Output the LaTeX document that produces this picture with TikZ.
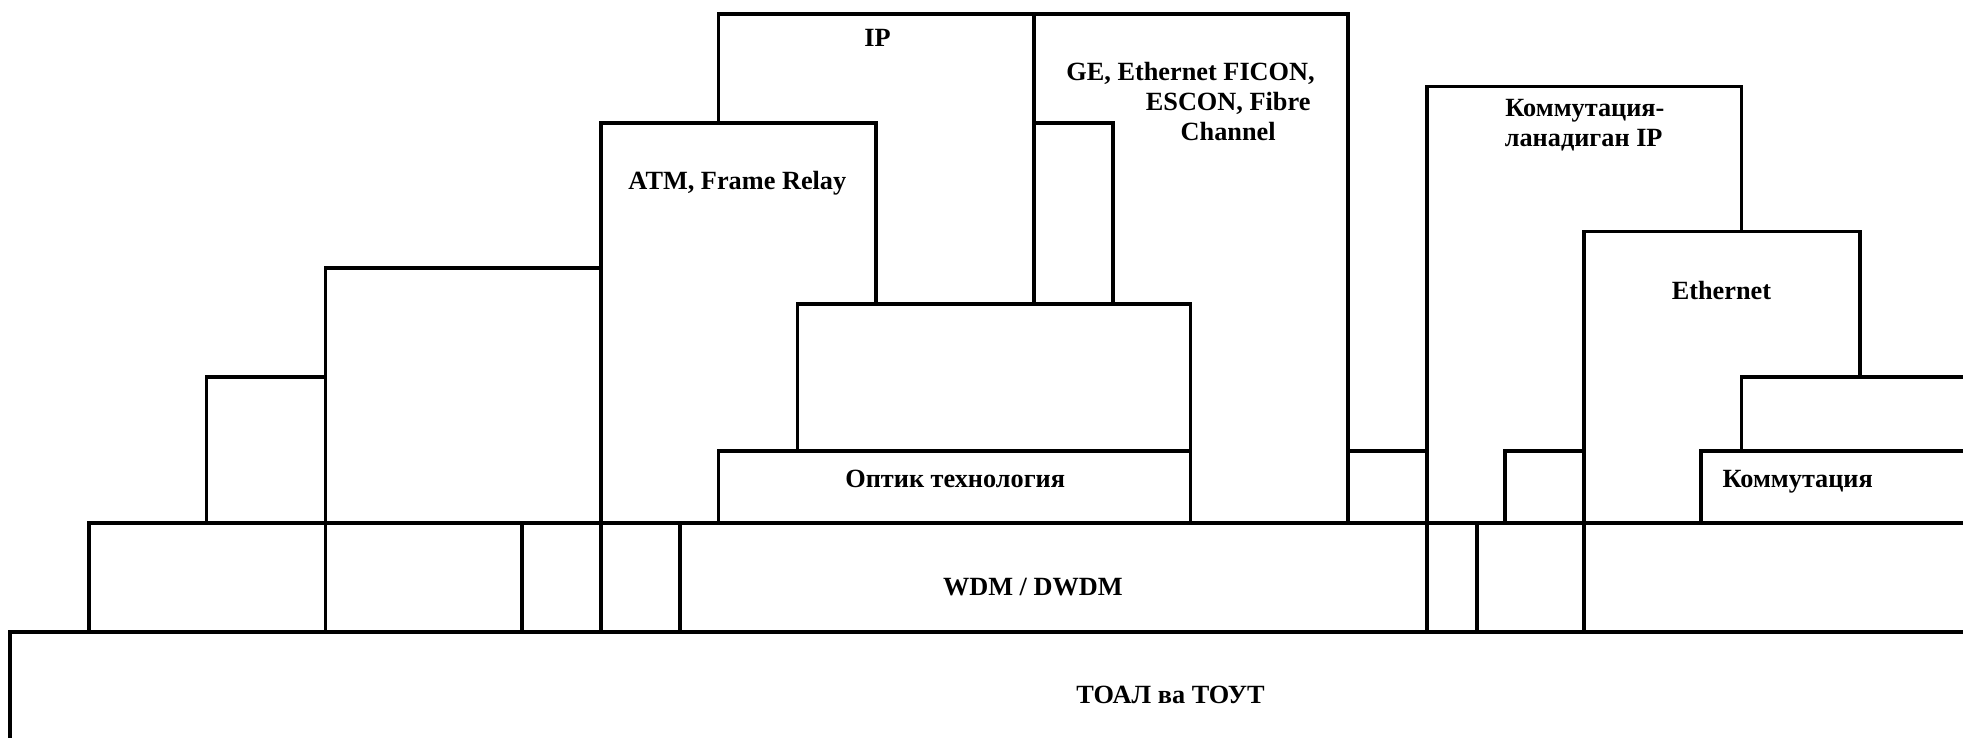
\documentclass[tikz,border=0pt]{standalone}
\usepackage{fontspec}
\setmainfont{Liberation Serif}
\begin{document}
\begin{tikzpicture}[x=1pt,y=-1pt,
  box/.style={draw=black, fill=white, line width=3pt, line join=miter},
  lbl/.style={font=\fontsize{21}{25}\selectfont\bfseries, inner sep=0pt, anchor=base}]
\useasboundingbox (0,0) rectangle (1568,589);
\clip (0,0) rectangle (1568,589);
% bottom layer
\draw[box] (8,505) rectangle (1590,620);
% WDM row
\draw[box] (71,418) rectangle (260,505);
\draw[box] (260,418) rectangle (417,505);
\draw[box] (417,418) rectangle (480,505);
\draw[box] (480,418) rectangle (543,505);
\draw[box] (543,418) rectangle (1140,505);
\draw[box] (1140,418) rectangle (1180,505);
\draw[box] (1180,418) rectangle (1265,505);
\draw[box] (1265,418) rectangle (1590,505);
% left stairs
\draw[box] (260,214) rectangle (480,418);
\draw[box] (165,301) rectangle (260,418);
% IP, GE
\draw[box] (574,11) rectangle (826,243);
\draw[box] (826,11) rectangle (1077,418);
\draw[box] (826,98) rectangle (889,243);
% ATM
\draw[box] (480,98) rectangle (700,418);
% middle boxes
\draw[box] (637,243) rectangle (951,360);
\draw[box] (574,360) rectangle (951,418);
\draw[box] (1077,360) rectangle (1140,418);
% right group
\draw[box] (1140,69) rectangle (1391,418);
\draw[box] (1202,360) rectangle (1265,418);
\draw[box] (1265,185) rectangle (1486,418);
\draw[box] (1391,301) rectangle (1590,360);
\draw[box] (1359,360) rectangle (1590,418);
% labels
\node[lbl] (ip) at (701,37) {IP};
\node[lbl] (atm) at (589,151) {ATM, Frame Relay};
\node[lbl] (ge1) at (951,64) {GE, Ethernet FICON,};
\node[lbl] (ge2) at (981,88) {ESCON, Fibre};
\node[lbl] (ge3) at (981,112) {Channel};
\node[lbl] (kip1) at (1266,93) {Коммутация-};
\node[lbl] (kip2) at (1265,117) {ланадиган IP};
\node[lbl] (eth) at (1375,239) {Ethernet};
\node[lbl] (opt) at (763,389) {Оптик технология};
\node[lbl] (kom) at (1436,389) {Коммутация};
\node[lbl] (wdm) at (825,476) {WDM / DWDM};
\node[lbl] (toal) at (935,562) {ТОАЛ ва ТОУТ};
\end{tikzpicture}
\end{document}
